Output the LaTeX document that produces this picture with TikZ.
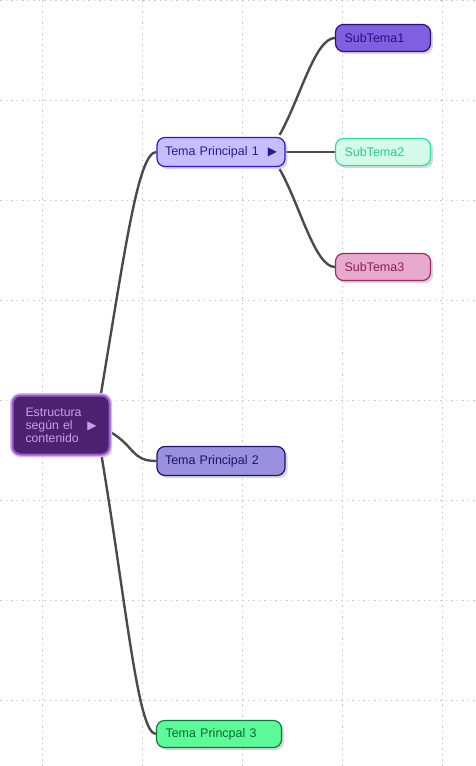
\documentclass[tikz,border=0pt]{standalone}
\usepackage{fontspec}
\setmainfont{Liberation Sans}
\newfontfamily\symfont{DejaVu Sans}
\usetikzlibrary{shadows,backgrounds}

\definecolor{rootfill}{HTML}{4D2070}
\definecolor{rootedge}{HTML}{9A5CC8}
\definecolor{rootglow}{HTML}{D7B8EE}
\definecolor{roottext}{HTML}{C8A0E8}
\definecolor{temaAfill}{HTML}{C5BFFF}
\definecolor{temaAedge}{HTML}{3311DD}
\definecolor{temaAtext}{HTML}{2A1A99}
\definecolor{temaBfill}{HTML}{9A90E0}
\definecolor{temaBedge}{HTML}{221177}
\definecolor{temaBtext}{HTML}{221166}
\definecolor{temaCfill}{HTML}{5CFA98}
\definecolor{temaCedge}{HTML}{117A40}
\definecolor{temaCtext}{HTML}{116633}
\definecolor{subAfill}{HTML}{8060E0}
\definecolor{subAedge}{HTML}{2A1077}
\definecolor{subBfill}{HTML}{D4FAE8}
\definecolor{subBedge}{HTML}{2EE0A0}
\definecolor{subBtext}{HTML}{28D090}
\definecolor{subCfill}{HTML}{E8AACC}
\definecolor{subCedge}{HTML}{A02868}
\definecolor{subCtext}{HTML}{8A1F5A}
\definecolor{linkgray}{HTML}{4A4A4A}

\newcommand{\arrowmark}{{\symfont\fontsize{12}{12}\selectfont ▶}}

\begin{document}
\begin{tikzpicture}[x=1pt,y=-1pt,
  main node/.style={rounded corners=8pt,draw,line width=1.2pt,inner sep=0pt,align=left,
    font=\fontsize{12.5}{14}\selectfont,
    drop shadow={shadow xshift=2.5pt,shadow yshift=-2.5pt,fill=black!30}},
  tema node/.style={main node,minimum width=128pt,minimum height=29pt,text width=112pt},
  sub node/.style={main node,minimum width=95pt,minimum height=27pt,text width=77pt},
  link/.style={draw=linkgray,line width=2.4pt},
  gridline/.style={draw=black!22,line width=1pt,dash pattern=on 1.5pt off 4pt}]

 \useasboundingbox (0,0) rectangle (475,766);

 \node[main node,fill=rootfill,draw=rootedge,line width=2pt,text=roottext,
   preaction={draw=rootglow,line width=5pt},
   minimum width=97pt,minimum height=59pt,text width=71pt,
   font=\fontsize{12.3}{13}\selectfont] (root) at (61,425)
   {Estructura\\según el\hfill\arrowmark\\contenido};

 \node[tema node,fill=temaAfill,draw=temaAedge,text=temaAtext] (tema1) at (221,152)
   {Tema Principal 1\hfill\arrowmark};
 \node[tema node,fill=temaBfill,draw=temaBedge,text=temaBtext] (tema2) at (221,461)
   {Tema Principal 2};
 \node[tema node,fill=temaCfill,draw=temaCedge,text=temaCtext,minimum width=125pt,
   minimum height=27pt,text width=107pt] (tema3) at (219,734) {Tema Princpal 3};

 \node[sub node,fill=subAfill,draw=subAedge,text=subAedge] (sub1) at (383,38) {SubTema1};
 \node[sub node,fill=subBfill,draw=subBedge,text=subBtext] (sub2) at (383,152) {SubTema2};
 \node[sub node,fill=subCfill,draw=subCedge,text=subCtext] (sub3) at (383,267) {SubTema3};

 \begin{scope}[on background layer]
  \fill[white] (0,0) rectangle (475,766);
  \foreach \x in {42,142,...,442}
    \draw[gridline] (\x,0) -- (\x,766);
  \foreach \y in {0,100,...,700}
    \draw[gridline] (0,\y) -- (475,\y);

  \draw[link] ([xshift=-10pt,yshift=-2pt]root.north east)
    .. controls +(25,-150) and +(-18,0) .. (tema1.west);
  \draw[link] ([yshift=-7pt]root.east)
    .. controls +(25,15) and +(-25,0) .. (tema2.west);
  \draw[link] ([xshift=-9pt]root.south east)
    .. controls +(25,150) and +(-18,0) .. (tema3.west);

  \draw[link] ([xshift=-6pt,yshift=2pt]tema1.north east)
    .. controls +(20,-35) and +(-20,0) .. (sub1.west);
  \draw[link] (tema1.east) -- (sub2.west);
  \draw[link] ([xshift=-6pt,yshift=-2pt]tema1.south east)
    .. controls +(20,35) and +(-20,0) .. (sub3.west);
 \end{scope}
\end{tikzpicture}
\end{document}
